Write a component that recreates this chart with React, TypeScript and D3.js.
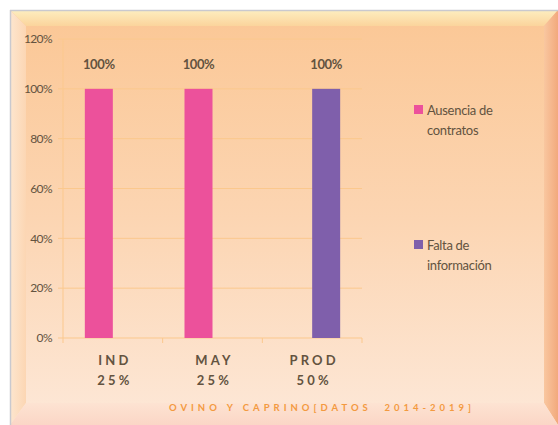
import React from 'react';
import * as d3 from 'd3';

const categoryNames = ['IND', 'MAY', 'PROD'];
const categoryShares = ['25%', '25%', '50%'];
const seriesNames = ['Ausencia de contratos', 'Falta de información'];
const ausencia = [1, 1, 0];
const falta = [0, 0, 1];
const yTicks = [0, 0.2, 0.4, 0.6, 0.8, 1, 1.2];
const title = 'OVINO Y CAPRINO[DATOS  2014-2019]';

const colors = ['#ec519b', '#7f5fab'];
const textCol = '#635340';
const gridCol = '#fbc88d';

const W = 558;
const H = 425;

const App = () => {
  const x = d3.scaleBand<string>().domain(categoryNames).range([63, 362]);
  const y = d3.scaleLinear().domain([0, 1.2]).range([338, 39]);
  const bw = x.bandwidth();
  const xs = d3.scaleBand<string>().domain(seriesNames).range([bw / 2 - 28, bw / 2 + 28]);
  const values = [ausencia, falta];
  const fmt = d3.format('.0%');

  return (
    <svg width={W} height={H} style={{ position: 'absolute', left: 0, top: 0 }} fontFamily="Lato, 'Open Sans', sans-serif">
      <defs>
        <linearGradient id="bg" x1="0" y1="0" x2="0" y2="1">
          <stop offset="0" stopColor="#fbc795" />
          <stop offset="0.5" stopColor="#fcd5b2" />
          <stop offset="1" stopColor="#fde8d8" />
        </linearGradient>
        <linearGradient id="topBevel" x1="0" y1="0" x2="0" y2="1">
          <stop offset="0" stopColor="#fdeec0" />
          <stop offset="1" stopColor="#fbd49c" />
        </linearGradient>
        <linearGradient id="leftBevel" x1="0" y1="0" x2="1" y2="0">
          <stop offset="0" stopColor="#fde6cf" />
          <stop offset="1" stopColor="#fcd6b3" />
        </linearGradient>
        <linearGradient id="rightBevel" x1="0" y1="0" x2="1" y2="0">
          <stop offset="0" stopColor="#f9c7a0" />
          <stop offset="1" stopColor="#f2a97c" />
        </linearGradient>
        <linearGradient id="botBevel" x1="0" y1="0" x2="0" y2="1">
          <stop offset="0" stopColor="#fde3d2" />
          <stop offset="1" stopColor="#fbd6c6" />
        </linearGradient>
      </defs>
      <rect x={0} y={0} width={W} height={H} fill="#ffffff" />
      <rect x={10} y={10} width={W - 10} height={H - 10} fill="url(#bg)" />
      <polygon points={`10,10 ${W},10 ${W - 14},26 26,26`} fill="url(#topBevel)" />
      <polygon points={`10,10 26,26 26,${H - 22} 10,${H}`} fill="url(#leftBevel)" />
      <polygon points={`${W},10 ${W},${H} ${W - 14},${H - 22} ${W - 14},26`} fill="url(#rightBevel)" />
      <polygon points={`10,${H} 26,${H - 22} ${W - 14},${H - 22} ${W},${H}`} fill="url(#botBevel)" />
      <line x1={10} y1={10.5} x2={W} y2={10.5} stroke="#c9c9cf" strokeWidth={1.5} />
      <line x1={10.5} y1={10} x2={10.5} y2={H} stroke="#c9c9cf" strokeWidth={1.5} />

      {yTicks.map(t => (
        <g key={t}>
          <line x1={58} x2={362} y1={y(t)} y2={y(t)} stroke={gridCol} strokeWidth={1} />
          <text x={52} y={y(t)} dy="0.35em" textAnchor="end" fontSize={12} fill={textCol} letterSpacing={-0.6}>
            {fmt(t)}
          </text>
        </g>
      ))}
      <line x1={63} x2={63} y1={y(1.2)} y2={y(0)} stroke={gridCol} strokeWidth={1} />
      {[...categoryNames.map(c => x(c) as number), 362].map((v, i) => (
        <line key={i} x1={v} x2={v} y1={y(0)} y2={y(0) + 5} stroke={gridCol} strokeWidth={1} />
      ))}

      {categoryNames.map((c, ci) =>
        seriesNames.map((s, si) => {
          const v = values[si][ci];
          if (!v) return null;
          const bx = (x(c) as number) + (xs(s) as number);
          return (
            <g key={c + s}>
              <rect x={bx} y={y(v)} width={xs.bandwidth()} height={y(0) - y(v)} fill={colors[si]} />
              <text x={bx + xs.bandwidth() / 2} y={y(v) - 20} textAnchor="middle" fontSize={13} fontWeight={700} fill={textCol} letterSpacing={-0.4}>
                {fmt(v)}
              </text>
            </g>
          );
        })
      )}

      {categoryNames.map((c, ci) => (
        <text key={c} x={(x(c) as number) + bw / 2} textAnchor="middle" fontSize={13} fontWeight={700} fill={textCol} letterSpacing={3.2}>
          <tspan x={(x(c) as number) + bw / 2 + 2} y={365}>{c}</tspan>
          <tspan x={(x(c) as number) + bw / 2 + 2} y={385}>{categoryShares[ci]}</tspan>
        </text>
      ))}

      <text x={322} y={411} textAnchor="middle" fontSize={9.5} fontWeight={700} fill="#f39a40" letterSpacing={4} style={{ whiteSpace: 'pre' }}>
        {title}
      </text>

      {seriesNames.map((s, i) => {
        const words = s.split(' ');
        const l1 = words.slice(0, -1).join(' ');
        const l2 = words[words.length - 1];
        const ly = i === 0 ? 110 : 245;
        return (
          <g key={s}>
            <rect x={414} y={ly - 5} width={9} height={9} fill={colors[i]} />
            <text fontSize={13} fill={textCol} letterSpacing={-0.3}>
              <tspan x={427} y={ly + 4.5}>{l1}</tspan>
              <tspan x={427} y={ly + 25}>{l2}</tspan>
            </text>
          </g>
        );
      })}
    </svg>
  );
};

export default App;
